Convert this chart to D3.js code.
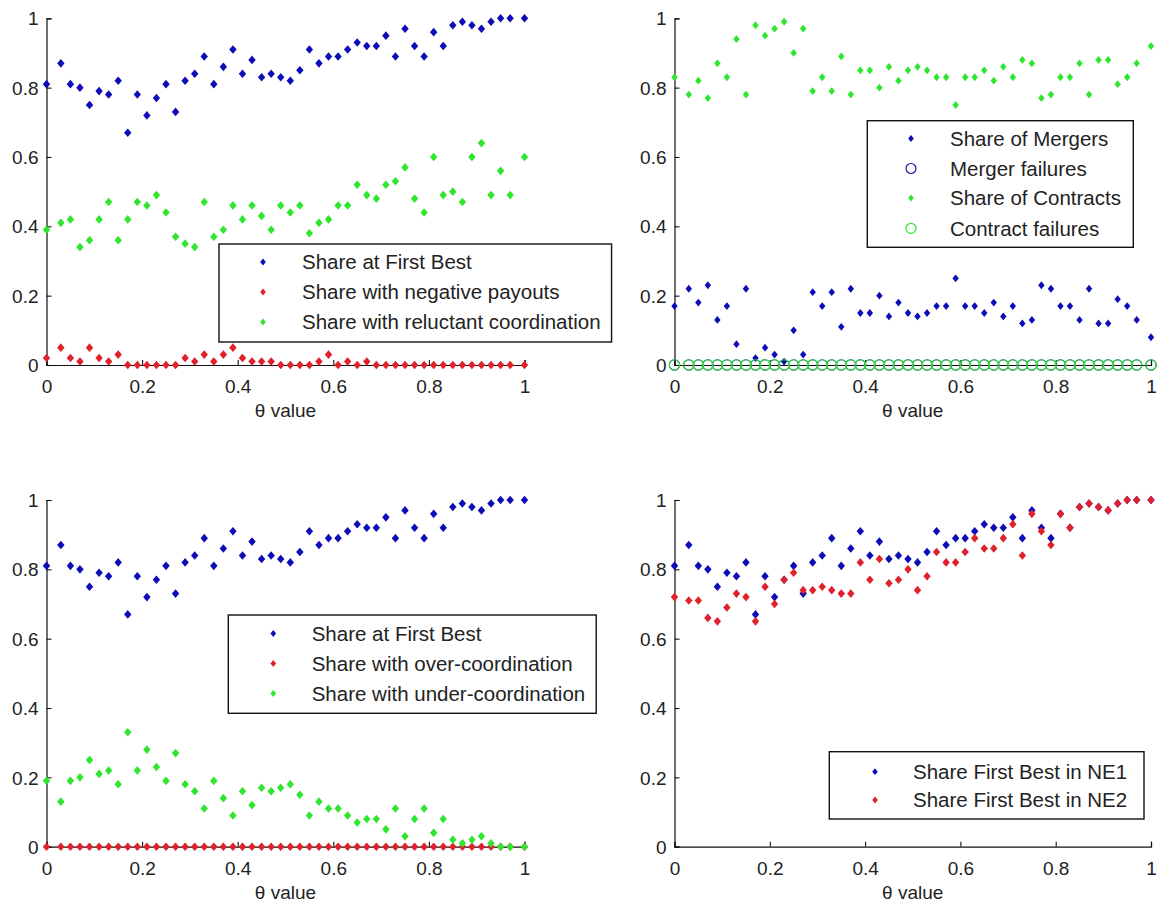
<!DOCTYPE html>
<html>
<head>
<meta charset="utf-8">
<script src="https://cdn.jsdelivr.net/npm/d3@7"></script>
<style>
  html, body { margin: 0; padding: 0; background: #ffffff; }
  svg { display: block; }
  text { font-family: "Liberation Sans", Arial, sans-serif; fill: #222; }
</style>
</head>
<body>
<svg id="chart" width="1160" height="907"></svg>
<script>
// ---------- DATA ----------
const theta = [0, 0.03, 0.05, 0.07, 0.09, 0.11, 0.13, 0.15, 0.17, 0.19,
  0.21, 0.23, 0.25, 0.27, 0.29, 0.31, 0.33, 0.35, 0.37, 0.39,
  0.41, 0.43, 0.45, 0.47, 0.49, 0.51, 0.53, 0.55, 0.57, 0.59,
  0.61, 0.63, 0.65, 0.67, 0.69, 0.71, 0.73, 0.75, 0.77, 0.79,
  0.81, 0.83, 0.85, 0.87, 0.89, 0.91, 0.93, 0.95, 0.97, 1];

const xTicks = [0, 0.2, 0.4, 0.6, 0.8, 1];
const yTicks = [0, 0.2, 0.4, 0.6, 0.8, 1];
const xTickLabels = ["0", "0.2", "0.4", "0.6", "0.8", "1"];
const yTickLabels = ["0", "0.2", "0.4", "0.6", "0.8", "1"];
const xLabel = "\u03b8 value";

const shareFirstBest = [0.81, 0.87, 0.81, 0.80, 0.75, 0.79, 0.78, 0.82, 0.67, 0.78,
  0.72, 0.77, 0.81, 0.73, 0.82, 0.84, 0.89, 0.81, 0.86, 0.91,
  0.84, 0.88, 0.83, 0.84, 0.83, 0.82, 0.85, 0.91, 0.87, 0.89,
  0.89, 0.91, 0.93, 0.92, 0.92, 0.95, 0.89, 0.97, 0.92, 0.89,
  0.96, 0.92, 0.98, 0.99, 0.98, 0.97, 0.99, 1, 1, 1];

const shareNegativePayouts = [0.02, 0.05, 0.02, 0.01, 0.05, 0.02, 0.01, 0.03, 0, 0,
  0, 0, 0, 0, 0.02, 0.01, 0.03, 0.01, 0.03, 0.05,
  0.02, 0.01, 0.01, 0.01, 0, 0, 0, 0, 0.01, 0.03,
  0, 0.01, 0, 0.01, 0, 0, 0, 0, 0, 0,
  0, 0, 0, 0, 0, 0, 0, 0, 0, 0];

const shareReluctant = [0.39, 0.41, 0.42, 0.34, 0.36, 0.42, 0.47, 0.36, 0.42, 0.47,
  0.46, 0.49, 0.44, 0.37, 0.35, 0.34, 0.47, 0.37, 0.39, 0.46,
  0.42, 0.46, 0.43, 0.39, 0.46, 0.44, 0.46, 0.38, 0.41, 0.42,
  0.46, 0.46, 0.52, 0.49, 0.48, 0.52, 0.53, 0.57, 0.48, 0.44,
  0.60, 0.49, 0.50, 0.47, 0.60, 0.64, 0.49, 0.56, 0.49, 0.60];

const shareMergers = [0.17, 0.22, 0.18, 0.23, 0.13, 0.17, 0.06, 0.22, 0.02, 0.05,
  0.03, 0.01, 0.10, 0.03, 0.21, 0.17, 0.21, 0.11, 0.22, 0.15,
  0.15, 0.20, 0.14, 0.18, 0.15, 0.14, 0.15, 0.17, 0.17, 0.25,
  0.17, 0.17, 0.15, 0.18, 0.14, 0.17, 0.12, 0.13, 0.23, 0.22,
  0.17, 0.17, 0.13, 0.22, 0.12, 0.12, 0.19, 0.17, 0.13, 0.08];

const mergerFailures = [0, 0, 0, 0, 0, 0, 0, 0, 0, 0,
  0, 0, 0, 0, 0, 0, 0, 0, 0, 0,
  0, 0, 0, 0, 0, 0, 0, 0, 0, 0,
  0, 0, 0, 0, 0, 0, 0, 0, 0, 0,
  0, 0, 0, 0, 0, 0, 0, 0, 0, 0];

const shareContracts = [0.83, 0.78, 0.82, 0.77, 0.87, 0.83, 0.94, 0.78, 0.98, 0.95,
  0.97, 0.99, 0.90, 0.97, 0.79, 0.83, 0.79, 0.89, 0.78, 0.85,
  0.85, 0.80, 0.86, 0.82, 0.85, 0.86, 0.85, 0.83, 0.83, 0.75,
  0.83, 0.83, 0.85, 0.82, 0.86, 0.83, 0.88, 0.87, 0.77, 0.78,
  0.83, 0.83, 0.87, 0.78, 0.88, 0.88, 0.81, 0.83, 0.87, 0.92];

const contractFailures = [0, 0, 0, 0, 0, 0, 0, 0, 0, 0,
  0, 0, 0, 0, 0, 0, 0, 0, 0, 0,
  0, 0, 0, 0, 0, 0, 0, 0, 0, 0,
  0, 0, 0, 0, 0, 0, 0, 0, 0, 0,
  0, 0, 0, 0, 0, 0, 0, 0, 0, 0];

const shareOverCoord = [0, 0, 0, 0, 0, 0, 0, 0, 0, 0,
  0, 0, 0, 0, 0, 0, 0, 0, 0, 0,
  0, 0, 0, 0, 0, 0, 0, 0, 0, 0,
  0, 0, 0, 0, 0, 0, 0, 0, 0, 0,
  0, 0, 0, 0, 0, 0, 0, 0, 0, 0];

const shareUnderCoord = [0.19, 0.13, 0.19, 0.20, 0.25, 0.21, 0.22, 0.18, 0.33, 0.22,
  0.28, 0.23, 0.19, 0.27, 0.18, 0.16, 0.11, 0.19, 0.14, 0.09,
  0.16, 0.12, 0.17, 0.16, 0.17, 0.18, 0.15, 0.09, 0.13, 0.11,
  0.11, 0.09, 0.07, 0.08, 0.08, 0.05, 0.11, 0.03, 0.08, 0.11,
  0.04, 0.08, 0.02, 0.01, 0.02, 0.03, 0.01, 0, 0, 0];

const shareNE1 = shareFirstBest;
const shareNE2 = [0.72, 0.71, 0.71, 0.66, 0.65, 0.69, 0.73, 0.72, 0.65, 0.75,
  0.70, 0.77, 0.79, 0.74, 0.74, 0.75, 0.74, 0.73, 0.73, 0.82,
  0.77, 0.83, 0.76, 0.77, 0.80, 0.74, 0.78, 0.85, 0.82, 0.82,
  0.85, 0.89, 0.86, 0.86, 0.89, 0.93, 0.84, 0.96, 0.91, 0.87,
  0.96, 0.92, 0.98, 0.99, 0.98, 0.97, 0.99, 1, 1, 1];

// ---------- STYLE ----------
const BLUE = "#0c0cb8";
const RED = "#e0202a";
const GREEN = "#2ee62e";
const CIRC_BLUE = "#1a1aa8";

const svg = d3.select("#chart");

const diamond = (s, x, y, hw, hh) =>
  s.append("path")
   .attr("d", `M${x},${y - hh}L${x + hw},${y}L${x},${y + hh}L${x - hw},${y}Z`);

function drawPanel(cfg) {
  const x = d3.scaleLinear().domain([0, 1]).range([cfg.x0, cfg.x1]);
  const y = d3.scaleLinear().domain([0, 1]).range([cfg.y0, cfg.y1]);
  const g = svg.append("g");

  // axes (MATLAB style: inward ticks, box off)
  const ax = g.append("g").attr("transform", `translate(0,${cfg.y0})`)
    .call(d3.axisBottom(x).tickValues(xTicks).tickSize(-5)
      .tickFormat((d, i) => xTickLabels[i]).tickPadding(10));
  const ay = g.append("g").attr("transform", `translate(${cfg.x0},0)`)
    .call(d3.axisLeft(y).tickValues(yTicks).tickSize(-5)
      .tickFormat((d, i) => yTickLabels[i]).tickPadding(8));
  [ax, ay].forEach(a => {
    a.select(".domain").attr("stroke", "#111").attr("stroke-width", 1.2);
    a.selectAll(".tick line").attr("stroke", "#111").attr("stroke-width", 1.1);
    a.selectAll(".tick text").style("font-size", "19px")
      .style("font-family", '"Liberation Sans", Arial, sans-serif').attr("fill", "#222");
  });
  ax.selectAll(".tick text").attr("dy", "0.95em");
  ay.selectAll(".tick text").attr("dy", "0.35em");

  g.append("text")
    .attr("x", (cfg.x0 + cfg.x1) / 2).attr("y", cfg.y0 + 52)
    .attr("text-anchor", "middle").style("font-size", "19px").text(xLabel);

  // series
  cfg.series.forEach(s => {
    const sg = g.append("g");
    theta.forEach((t, i) => {
      const px = x(t), py = y(s.values[i]);
      if (s.shape === "circle") {
        sg.append("circle").attr("cx", px).attr("cy", py).attr("r", 5.2)
          .attr("fill", "none").attr("stroke", s.color).attr("stroke-width", 1.1);
      } else {
        diamond(sg, px, py, s.hw || 3.7, s.hh || 4.3).attr("fill", s.color);
      }
    });
  });

  // legend
  const L = cfg.legend;
  const lg = g.append("g");
  const box = lg.append("rect").attr("fill", "#fff").attr("stroke", "#111").attr("stroke-width", 1.4);
  let maxEnd = 0;
  cfg.series.forEach((s, i) => {
    const ry = L.rows[i];
    if (s.shape === "circle") {
      lg.append("circle").attr("cx", L.mx).attr("cy", ry).attr("r", 5)
        .attr("fill", "none").attr("stroke", s.legendColor || s.color).attr("stroke-width", 1.2);
    } else {
      diamond(lg, L.mx, ry, 2.8, 3.4).attr("fill", s.color);
    }
    const t = lg.append("text").attr("x", L.tx).attr("y", ry).attr("dy", "0.36em")
      .style("font-size", "20.5px").text(s.name);
    maxEnd = Math.max(maxEnd, L.tx + t.node().getComputedTextLength());
  });
  const right = L.right || (maxEnd + 11);
  box.attr("x", L.left).attr("y", L.top).attr("width", right - L.left).attr("height", L.bottom - L.top);
}

const LEFT = [46.5, 524.5], RIGHT = [674.5, 1151];
const TOP = [365, 18.3], BOT = [846.7, 500];

drawPanel({
  x0: LEFT[0], x1: LEFT[1], y0: TOP[0], y1: TOP[1],
  series: [
    { name: "Share at First Best", values: shareFirstBest, color: BLUE },
    { name: "Share with negative payouts", values: shareNegativePayouts, color: RED },
    { name: "Share with reluctant coordination", values: shareReluctant, color: GREEN }
  ],
  legend: { left: 219, top: 244, bottom: 342, mx: 263, tx: 302, rows: [262, 292, 322] }
});

drawPanel({
  x0: RIGHT[0], x1: RIGHT[1], y0: TOP[0], y1: TOP[1],
  series: [
    { name: "Share of Mergers", values: shareMergers, color: BLUE, hw: 3.2, hh: 3.9 },
    { name: "Merger failures", values: mergerFailures, color: CIRC_BLUE, shape: "circle" },
    { name: "Share of Contracts", values: shareContracts, color: GREEN, hw: 3.2, hh: 3.9 },
    { name: "Contract failures", values: contractFailures, color: GREEN, shape: "circle" }
  ],
  legend: { left: 867.3, top: 120.7, bottom: 247.3, right: 1133.3, mx: 911, tx: 950, rows: [138.5, 168.5, 198, 228.3] }
});

drawPanel({
  x0: LEFT[0], x1: LEFT[1], y0: BOT[0], y1: BOT[1],
  series: [
    { name: "Share at First Best", values: shareFirstBest, color: BLUE },
    { name: "Share with over-coordination", values: shareOverCoord, color: RED },
    { name: "Share with under-coordination", values: shareUnderCoord, color: GREEN }
  ],
  legend: { left: 228.3, top: 615, bottom: 713.3, mx: 273.3, tx: 311.7, rows: [633.5, 663.5, 693.5] }
});

drawPanel({
  x0: RIGHT[0], x1: RIGHT[1], y0: BOT[0], y1: BOT[1],
  series: [
    { name: "Share First Best in NE1", values: shareNE1, color: BLUE },
    { name: "Share First Best in NE2", values: shareNE2, color: RED }
  ],
  legend: { left: 829.3, top: 751.7, bottom: 819, right: 1144, mx: 875, tx: 913, rows: [771.7, 800] }
});
</script>
</body>
</html>
